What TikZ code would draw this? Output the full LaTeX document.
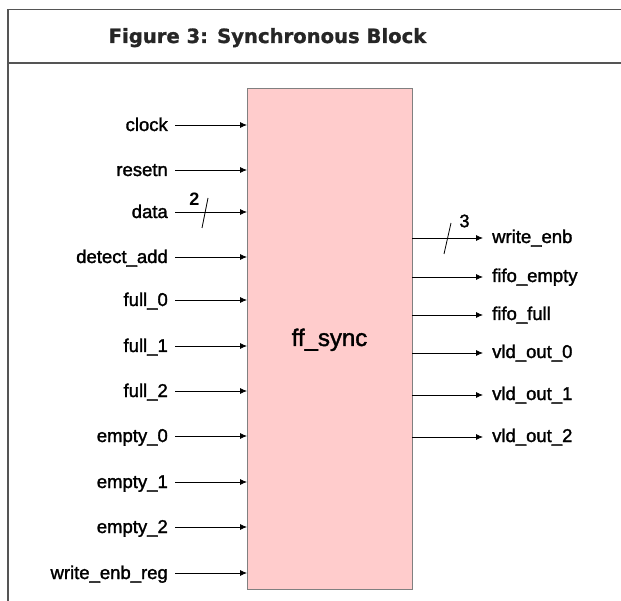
\documentclass[tikz,border=0pt]{standalone}
\usepackage{fontspec}
\setmainfont{Liberation Sans}
\newfontfamily\labelfont[FakeBold=1.6]{Liberation Sans}
\newfontfamily\titlefont[BoldFeatures={FakeBold=1.2}]{DejaVu Sans}
\usetikzlibrary{arrows.meta}
\definecolor{framegray}{HTML}{555555}
\definecolor{boxpink}{HTML}{FFCCCC}
\definecolor{titlegray}{HTML}{262626}
\tikzset{
  frameline/.style={draw=framegray, line width=1.4pt},
  block/.style={draw=gray, line width=0.9pt, fill=boxpink},
  sig/.style={draw=black, line width=0.8pt, -{Latex[length=7pt,width=6pt]}},
  inlabel/.style={anchor=base east, inner sep=0pt, font=\labelfont\fontsize{18.5}{20}\selectfont},
  outlabel/.style={anchor=base west, inner sep=0pt, font=\labelfont\fontsize{18.5}{20}\selectfont},
  buswidth/.style={inner sep=0pt, font=\labelfont\fontsize{18}{20}\selectfont},
  busslash/.style={draw=black, line width=0.8pt}
}
\begin{document}
\begin{tikzpicture}[x=1pt, y=-1pt]
  \useasboundingbox (0,0) rectangle (621,601);
  % outer frame and title bar
  \draw[frameline] (8,601) -- (8,9.5) -- (621,9.5);
  \draw[frameline] (8,63) -- (621,63);
  \node[font=\titlefont\bfseries\fontsize{19.6}{22}\selectfont, text=titlegray, anchor=base] (title) at (267.5,43) {Figure 3: Synchronous Block};

  % the synchronous block
  \draw[block] (247,88) rectangle (412,589);
  \node[inner sep=0pt, minimum width=165pt, minimum height=501pt] (box) at (329.5,338.5) {};
  \node[font=\labelfont\fontsize{24}{26}\selectfont, anchor=base, inner sep=0pt] (core) at (329.5,346) {ff\_sync};

  % inputs
  \foreach \n/\t/\y in {i1/clock/125, i2/resetn/170, i3/data/212, i4/detect\_add/257,
                        i5/full\_0/300, i6/full\_1/346, i7/full\_2/391, i8/empty\_0/436,
                        i9/empty\_1/482, i10/empty\_2/527, i11/write\_enb\_reg/573} {
    \coordinate (\n pin) at (247,\y);
    \node[inlabel] (\n) at (168,\y+6) {\t};
    \draw[sig] (\n.east |- \n pin) ++(7,0) -- (\n pin);
  }

  % outputs
  \foreach \n/\t/\y in {o1/write\_enb/238, o2/fifo\_empty/277, o3/fifo\_full/315,
                        o4/vld\_out\_0/353, o5/vld\_out\_1/395, o6/vld\_out\_2/437} {
    \coordinate (\n pin) at (412,\y);
    \node[outlabel] (\n) at (492,\y+5) {\t};
    \draw[sig] (\n pin) -- ([xshift=-9pt]\n.west |- \n pin);
  }

  % bus width markers
  \coordinate (s1a) at (202,228);
  \coordinate (s1b) at (208,198);
  \draw[busslash] (s1a) -- (s1b);
  \node[buswidth, font=\bfseries\fontsize{18}{20}\selectfont] (w1) at (194.5,199) {2};
  \coordinate (s2a) at (444,254);
  \coordinate (s2b) at (451,223);
  \draw[busslash] (s2a) -- (s2b);
  \node[buswidth] (w2) at (464.5,221) {3};
\end{tikzpicture}
\end{document}
